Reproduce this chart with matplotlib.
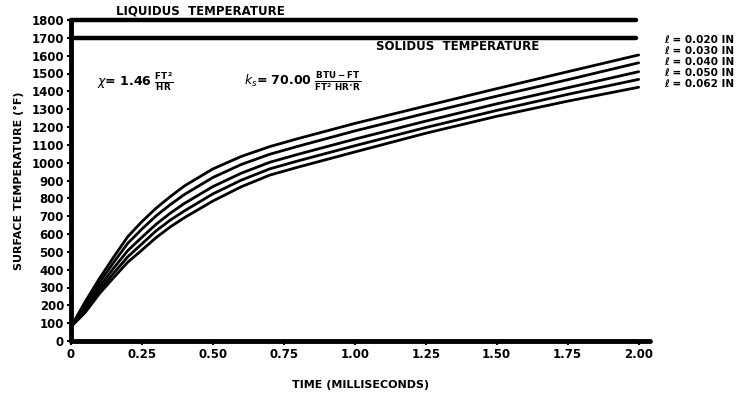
import matplotlib
matplotlib.use("Agg")
import matplotlib.pyplot as plt

# Data
time_ms = [0.0, 0.05, 0.10, 0.15, 0.20, 0.25, 0.30, 0.35, 0.40, 0.50,
           0.60, 0.70, 0.80, 1.00, 1.25, 1.50, 1.75, 2.00]
temp_020 = [80, 220, 350, 470, 585, 670, 745, 810, 870, 965,
            1035, 1090, 1135, 1220, 1318, 1415, 1510, 1604]
temp_030 = [80, 205, 327, 440, 548, 628, 702, 765, 822, 917,
            990, 1047, 1092, 1178, 1277, 1373, 1465, 1560]
temp_040 = [80, 190, 303, 408, 507, 582, 655, 717, 772, 866,
            941, 1002, 1047, 1132, 1233, 1330, 1420, 1510]
temp_050 = [80, 175, 283, 380, 472, 545, 618, 678, 730, 825,
            902, 965, 1010, 1095, 1197, 1293, 1383, 1467]
temp_062 = [80, 160, 265, 355, 442, 510, 580, 640, 692, 785,
            865, 930, 975, 1060, 1165, 1260, 1345, 1423]
series_labels = ["ℓ = 0.020 IN", "ℓ = 0.030 IN", "ℓ = 0.040 IN",
                 "ℓ = 0.050 IN", "ℓ = 0.062 IN"]
liquidus = 1800
solidus = 1700
line_end = 1.99
xticks = [0, 0.25, 0.5, 0.75, 1.0, 1.25, 1.5, 1.75, 2.0]
xtick_labels = ["0", "0.25", "0.50", "0.75", "1.00", "1.25", "1.50", "1.75", "2.00"]
yticks = list(range(0, 1900, 100))
ytick_labels = [str(v) for v in yticks]

fig = plt.figure(figsize=(7.45, 4.0), dpi=100)
ax = fig.add_axes([71/745, 1-341/400, 579/745, 321/400])

for s in [temp_020, temp_030, temp_040, temp_050, temp_062]:
    ax.plot(time_ms, s, color="black", lw=2.0, solid_capstyle="round",
            solid_joinstyle="round")

ax.plot([0, line_end], [liquidus, liquidus], color="black", lw=3.2,
        solid_capstyle="round", clip_on=False)
ax.plot([0, line_end], [solidus, solidus], color="black", lw=3.2,
        solid_capstyle="round", clip_on=False)

ax.set_xlim(0, 2.04)
ax.set_ylim(0, 1800)
ax.spines["top"].set_visible(False)
ax.spines["right"].set_visible(False)
ax.spines["left"].set_linewidth(3.5)
ax.spines["bottom"].set_linewidth(3.5)
ax.spines["left"].set_capstyle("round")
ax.spines["bottom"].set_capstyle("round")

ax.set_xticks(xticks)
ax.set_xticklabels(xtick_labels, fontsize=8.5, fontweight="bold")
ax.set_yticks(yticks)
ax.set_yticklabels(ytick_labels, fontsize=8.5, fontweight="bold")
ax.tick_params(axis="both", direction="out", length=3, width=1.5, pad=2)

ax.set_xlabel("TIME (MILLISECONDS)", fontsize=8, fontweight="bold", labelpad=14)
ax.set_ylabel("SURFACE TEMPERATURE (°F)", fontsize=8, fontweight="bold", labelpad=5)

ax.text(0.16, 1815, "LIQUIDUS  TEMPERATURE", fontsize=8.5, fontweight="bold",
        ha="left", va="bottom", clip_on=False)
ax.text(1.075, 1650, "SOLIDUS  TEMPERATURE", fontsize=8.5, fontweight="bold",
        ha="left", va="center")

ax.text(0.09, 1450, r"$\chi$= 1.46 $\mathbf{\frac{FT^2}{HR}}$", fontsize=9,
        fontweight="bold", ha="left", va="center")
ax.text(0.61, 1450, r"$k_s$= 70.00 $\mathbf{\frac{BTU-FT}{FT^2\ HR^{\circ}R}}$", fontsize=9,
        fontweight="bold", ha="left", va="center")

label_y = [40, 51, 62, 73, 84]
for lab, yp in zip(series_labels, label_y):
    fig.text(664/745, 1-yp/400, lab, fontsize=7.5, fontweight="bold",
             ha="left", va="center")

fig.savefig("out.png", dpi=100)
